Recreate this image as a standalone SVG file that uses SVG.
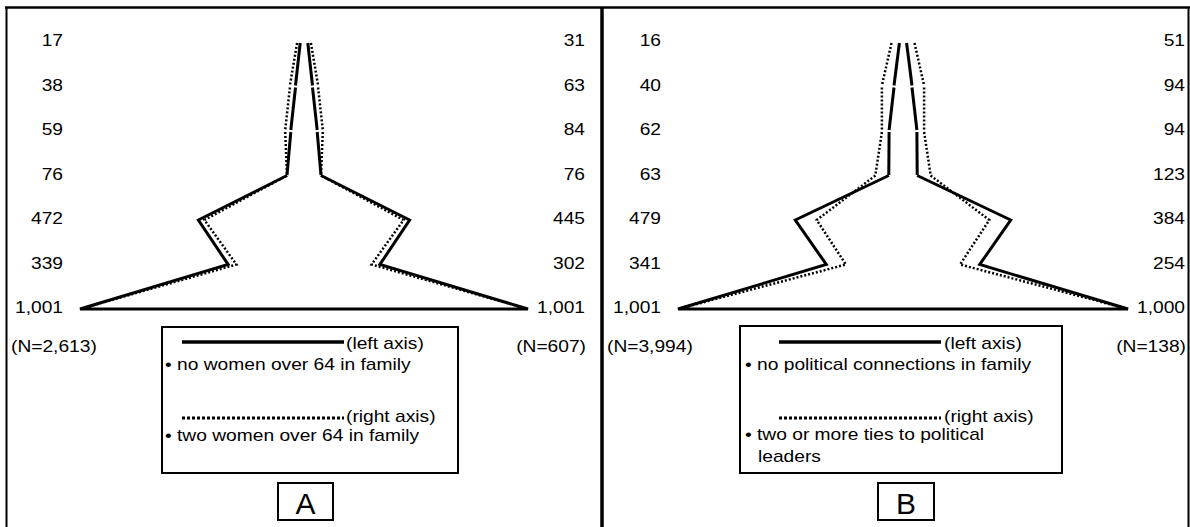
<svg xmlns="http://www.w3.org/2000/svg" width="1190" height="527" viewBox="0 0 1190 527">
<style>
.t{font-family:"Liberation Sans",Arial,sans-serif;font-size:16px;fill:#000}
.e{text-anchor:end}
.s{stroke:#000;stroke-width:3;fill:none}
.d{stroke:#000;stroke-width:2.5;fill:none;stroke-dasharray:2 2}
.box{fill:#fff;stroke:#000;stroke-width:2}
.big{font-family:"Liberation Sans",Arial,sans-serif;font-size:30px;text-anchor:middle}
</style>
<rect width="1190" height="527" fill="#fff"/>
<g id="frame" stroke="#000" fill="none">
<line x1="5" y1="7.5" x2="1190" y2="7.5" stroke-width="2.5"/>
<line x1="6.5" y1="7" x2="6.5" y2="527" stroke-width="2"/>
<line x1="602" y1="7" x2="602" y2="527" stroke-width="3.5"/>
<line x1="1188.5" y1="7" x2="1188.5" y2="527" stroke-width="2"/>
</g>
<g id="connectors">
<g id="pyramidA">
<line class="d" x1="297.1" y1="43" x2="289.9" y2="85.5"/><line class="d" x1="289.9" y1="87.5" x2="285.2" y2="130"/><line class="d" x1="285.2" y1="132" x2="287" y2="175"/>
<line class="d" x1="310.9" y1="43" x2="318.1" y2="85.5"/><line class="d" x1="318.1" y1="87.5" x2="322.8" y2="130"/><line class="d" x1="322.8" y1="132" x2="321" y2="175"/>
<polyline class="d" points="287,175.5 204.4,220 236.4,264.5 80,309"/>
<polyline class="d" points="321,175.5 403.6,220 371.6,264.5 528,309"/>
<line class="s" x1="300.2" y1="43" x2="295.5" y2="85.5"/><line class="s" x1="295.5" y1="87.5" x2="290.8" y2="130"/><line class="s" x1="290.8" y1="132" x2="287" y2="175"/>
<line class="s" x1="307.8" y1="43" x2="312.5" y2="85.5"/><line class="s" x1="312.5" y1="87.5" x2="317.2" y2="130"/><line class="s" x1="317.2" y1="132" x2="321" y2="175"/>
<polyline class="s" points="287,175.5 198.4,220 228.1,264.5 80,309 528,309 379.9,264.5 409.6,220 321,175.5"/>
</g>
<g id="pyramidB">
<line class="d" x1="891.5" y1="43" x2="881.9" y2="85.5"/><line class="d" x1="881.9" y1="87.5" x2="881.9" y2="130"/><line class="d" x1="881.9" y1="132" x2="875.4" y2="175"/>
<line class="d" x1="914.5" y1="43" x2="924.1" y2="85.5"/><line class="d" x1="924.1" y1="87.5" x2="924.1" y2="130"/><line class="d" x1="924.1" y1="132" x2="930.6" y2="175"/>
<polyline class="d" points="875.4,175.5 816.7,220 845.9,264.5 678,309"/>
<polyline class="d" points="930.6,175.5 989.3,220 960.1,264.5 1128,309"/>
<line class="s" x1="899.4" y1="43" x2="894" y2="85.5"/><line class="s" x1="894" y1="87.5" x2="889.1" y2="130"/><line class="s" x1="889.1" y1="132" x2="888.8" y2="175"/>
<line class="s" x1="906.6" y1="43" x2="912" y2="85.5"/><line class="s" x1="912" y1="87.5" x2="916.9" y2="130"/><line class="s" x1="916.9" y1="132" x2="917.2" y2="175"/>
<polyline class="s" points="888.8,175.5 795.3,220 826.3,264.5 678,309 1128,309 979.7,264.5 1010.7,220 917.2,175.5"/>
</g>
</g>
<g id="axisA-left">
<text class="t e" transform="translate(63,46) scale(1.2,1)">17</text>
<text class="t e" transform="translate(63,90.5) scale(1.2,1)">38</text>
<text class="t e" transform="translate(63,135) scale(1.2,1)">59</text>
<text class="t e" transform="translate(63,179.5) scale(1.2,1)">76</text>
<text class="t e" transform="translate(63,224) scale(1.2,1)">472</text>
<text class="t e" transform="translate(63,268.5) scale(1.2,1)">339</text>
<text class="t e" transform="translate(63,313) scale(1.2,1)">1,001</text>
<text class="t" transform="translate(11,352) scale(1.2,1)">(N=2,613)</text>
</g>
<g id="axisA-right">
<text class="t e" transform="translate(585,46) scale(1.2,1)">31</text>
<text class="t e" transform="translate(585,90.5) scale(1.2,1)">63</text>
<text class="t e" transform="translate(585,135) scale(1.2,1)">84</text>
<text class="t e" transform="translate(585,179.5) scale(1.2,1)">76</text>
<text class="t e" transform="translate(585,224) scale(1.2,1)">445</text>
<text class="t e" transform="translate(585,268.5) scale(1.2,1)">302</text>
<text class="t e" transform="translate(585,313) scale(1.2,1)">1,001</text>
<text class="t e" transform="translate(586,352) scale(1.2,1)">(N=607)</text>
</g>
<g id="axisB-left">
<text class="t e" transform="translate(661,46) scale(1.2,1)">16</text>
<text class="t e" transform="translate(661,90.5) scale(1.2,1)">40</text>
<text class="t e" transform="translate(661,135) scale(1.2,1)">62</text>
<text class="t e" transform="translate(661,179.5) scale(1.2,1)">63</text>
<text class="t e" transform="translate(661,224) scale(1.2,1)">479</text>
<text class="t e" transform="translate(661,268.5) scale(1.2,1)">341</text>
<text class="t e" transform="translate(661,313) scale(1.2,1)">1,001</text>
<text class="t" transform="translate(607,352) scale(1.2,1)">(N=3,994)</text>
</g>
<g id="axisB-right">
<text class="t e" transform="translate(1185,46) scale(1.2,1)">51</text>
<text class="t e" transform="translate(1185,90.5) scale(1.2,1)">94</text>
<text class="t e" transform="translate(1185,135) scale(1.2,1)">94</text>
<text class="t e" transform="translate(1185,179.5) scale(1.2,1)">123</text>
<text class="t e" transform="translate(1185,224) scale(1.2,1)">384</text>
<text class="t e" transform="translate(1185,268.5) scale(1.2,1)">254</text>
<text class="t e" transform="translate(1185,313) scale(1.2,1)">1,000</text>
<text class="t e" transform="translate(1186,352) scale(1.2,1)">(N=138)</text>
</g>
<g id="legendA">
<rect class="box" x="162" y="327" width="296" height="146"/>
<line x1="182" y1="342" x2="344" y2="342" stroke="#000" stroke-width="3.5"/>
<text class="t" transform="translate(346,349) scale(1.2,1)">(left axis)</text>
<text class="t" transform="translate(165,370) scale(1.2,1)">• no women over 64 in family</text>
<line x1="182" y1="418" x2="344" y2="418" stroke="#000" stroke-width="3" stroke-dasharray="3 2"/>
<text class="t" transform="translate(346,422) scale(1.2,1)">(right axis)</text>
<text class="t" transform="translate(165,441) scale(1.2,1)">• two women over 64 in family</text>
</g>
<g id="legendB">
<rect class="box" x="740" y="326" width="322" height="147"/>
<line x1="779" y1="342" x2="941" y2="342" stroke="#000" stroke-width="3.5"/>
<text class="t" transform="translate(944,349) scale(1.2,1)">(left axis)</text>
<text class="t" transform="translate(745,370) scale(1.2,1)">• no political connections in family</text>
<line x1="779" y1="418" x2="941" y2="418" stroke="#000" stroke-width="3" stroke-dasharray="3 2"/>
<text class="t" transform="translate(944,422) scale(1.2,1)">(right axis)</text>
<text class="t" transform="translate(745,440) scale(1.2,1)">• two or more ties to political</text>
<text class="t" transform="translate(758,462) scale(1.2,1)">leaders</text>
</g>
<g id="labelA">
<rect class="box" x="278" y="483" width="55" height="37"/>
<text class="big" x="305.5" y="514">A</text>
</g>
<g id="labelB">
<rect class="box" x="878" y="483" width="56" height="37"/>
<text class="big" x="906" y="514">B</text>
</g>
</svg>
